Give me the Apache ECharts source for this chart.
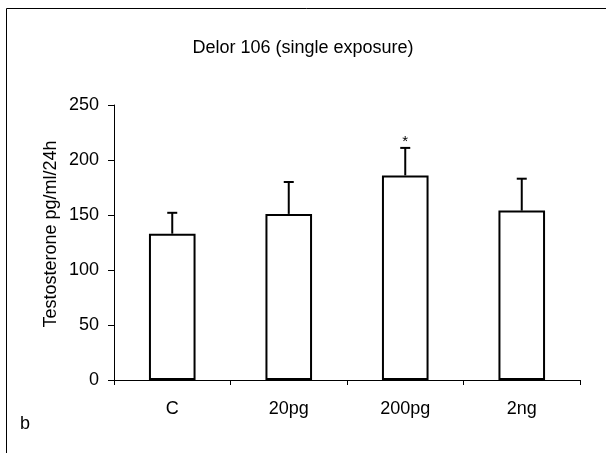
<!DOCTYPE html>
<html>
<head>
<meta charset="utf-8">
<script src="https://cdn.jsdelivr.net/npm/echarts@6/dist/echarts.min.js"></script>
<style>
  html, body { margin: 0; padding: 0; background: #fff; }
  #chart { width: 606px; height: 453px; }
</style>
</head>
<body>
<div id="chart"></div>
<script>
// groups on the x axis
const categories = ["C", "20pg", "200pg", "2ng"];
// mean testosterone, pg/ml/24h
const means = [133, 151, 186, 154];
// upper error bar length
const errors = [19, 29, 25, 29];
// significance marks
const stars = ["", "", "*", ""];
const yTicks = [0, 50, 100, 150, 200, 250];

const chart = echarts.init(document.getElementById("chart"));
const font = "Liberation Sans, Arial, sans-serif";

chart.setOption({
  animation: false,
  textStyle: { fontFamily: font },
  title: {
    text: "Delor 106 (single exposure)",
    left: "center",
    top: 34,
    textStyle: { fontSize: 18, fontWeight: "normal", color: "#000", fontFamily: font },
  },
  grid: { left: 114, right: 26, top: 105, bottom: 73 },
  xAxis: {
    type: "category",
    data: categories,
    axisLine: { lineStyle: { color: "#000", width: 1 } },
    axisTick: { show: true, length: 5, lineStyle: { color: "#000" } },
    axisLabel: { color: "#000", fontSize: 18, margin: 20, fontFamily: font },
  },
  yAxis: {
    type: "value",
    min: yTicks[0],
    max: yTicks[yTicks.length - 1],
    interval: 50,
    axisLine: { show: true, lineStyle: { color: "#000", width: 1 } },
    axisTick: { show: true, length: 6, lineStyle: { color: "#000" } },
    axisLabel: { color: "#000", fontSize: 18, margin: 15, fontFamily: font },
    splitLine: { show: false },
  },
  series: [
    {
      type: "bar",
      data: means,
      barWidth: "40%",
      itemStyle: { color: "#fff", borderColor: "#000", borderWidth: 2 },
      z: 2,
    },
    {
      // error bars drawn upward from the bar top
      type: "custom",
      data: means.map((m, i) => [i, m, m + errors[i]]),
      z: 3,
      renderItem: function (params, api) {
        const base = api.coord([api.value(0), api.value(1)]);
        const top = api.coord([api.value(0), api.value(2)]);
        const half = 5;
        const children = [
          {
            type: "line",
            shape: { x1: base[0], y1: base[1], x2: top[0], y2: top[1] },
            style: { stroke: "#000", lineWidth: 2 },
          },
          {
            type: "line",
            shape: { x1: top[0] - half, y1: top[1], x2: top[0] + half, y2: top[1] },
            style: { stroke: "#000", lineWidth: 2 },
          },
        ];
        const s = stars[params.dataIndex];
        if (s) {
          children.push({
            type: "text",
            x: top[0],
            y: top[1] + 1,
            style: {
              text: s,
              fill: "#000",
              font: "15px " + font,
              align: "center",
              verticalAlign: "bottom",
            },
          });
        }
        return { type: "group", children: children };
      },
    },
  ],
  graphic: [
    {
      type: "polyline",
      shape: { points: [[6.5, 453], [6.5, 8.5], [606, 8.5]] },
      style: { stroke: "#000", lineWidth: 1, fill: null },
    },
    {
      // y axis title
      type: "text",
      x: 51,
      y: 234,
      rotation: Math.PI / 2,
      style: {
        text: "Testosterone pg/ml/24h",
        fill: "#000",
        font: "18px " + font,
        align: "center",
        verticalAlign: "middle",
      },
    },
    {
      type: "text",
      left: 20,
      top: 415,
      style: { text: "b", fill: "#000", font: "18px " + font },
    },
  ],
});
</script>
</body>
</html>
